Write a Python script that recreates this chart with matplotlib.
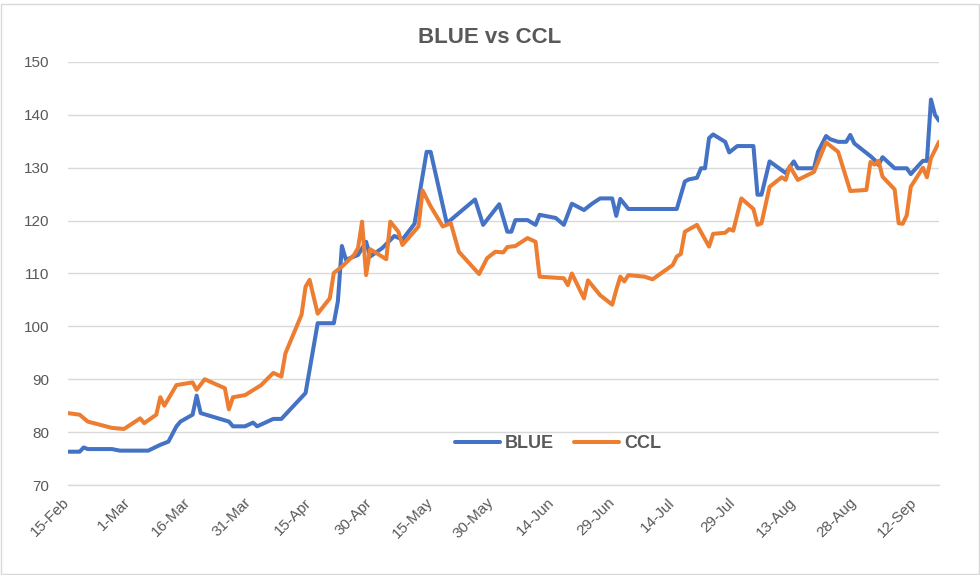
import matplotlib
matplotlib.use("Agg")
import matplotlib.pyplot as plt
import pandas as pd

YEAR = 2020

# ---- data ----
blue_dates = ["02-15", "02-18", "02-19", "02-20", "02-26", "02-28", "03-06", "03-09",
              "03-11", "03-13", "03-14", "03-17", "03-18", "03-19", "03-26", "03-27",
              "03-30", "04-01", "04-02", "04-06", "04-08", "04-14", "04-17", "04-21",
              "04-22", "04-23", "04-24", "04-27", "04-29", "04-30", "05-03", "05-06",
              "05-08", "05-11", "05-14", "05-15", "05-19", "05-26", "05-28", "06-01",
              "06-03", "06-04", "06-05", "06-08", "06-10", "06-11", "06-15", "06-17",
              "06-19", "06-22", "06-24", "06-26", "06-29", "06-30", "07-01", "07-03",
              "07-15", "07-17", "07-18", "07-20", "07-21", "07-22", "07-23", "07-24",
              "07-27", "07-28", "07-30", "08-03", "08-04", "08-05", "08-07", "08-11",
              "08-13", "08-14", "08-18", "08-19", "08-21", "08-22", "08-24", "08-26",
              "08-27", "08-28", "09-01", "09-02", "09-03", "09-04", "09-07", "09-10",
              "09-11", "09-13", "09-14", "09-15", "09-16", "09-17", "09-18"]
blue_values = [76.3, 76.3, 77.1, 76.8, 76.8, 76.5, 76.5, 77.6,
               78.2, 81.1, 82.0, 83.3, 86.9, 83.6, 82.0, 81.1,
               81.1, 81.8, 81.1, 82.5, 82.5, 87.4, 100.6, 100.6,
               104.7, 115.2, 112.6, 113.5, 116.0, 113.2, 114.8, 117.1,
               116.4, 119.4, 133.0, 133.0, 119.5, 124.0, 119.2, 123.1,
               117.9, 117.9, 120.1, 120.1, 119.2, 121.1, 120.5, 119.2,
               123.2, 122.0, 123.2, 124.2, 124.2, 120.9, 124.1, 122.2,
               122.2, 127.4, 127.8, 128.1, 129.9, 129.9, 135.6, 136.3,
               134.9, 132.9, 134.1, 134.1, 124.9, 124.9, 131.2, 129.0,
               131.2, 129.9, 129.9, 133.0, 136.0, 135.4, 134.9, 134.9,
               136.2, 134.6, 132.2, 131.5, 130.5, 132.0, 129.9, 129.9,
               128.8, 130.5, 131.3, 131.3, 142.9, 140.0, 138.9]

ccl_dates = ["02-15", "02-18", "02-20", "02-26", "02-29", "03-04", "03-05", "03-08",
             "03-09", "03-10", "03-13", "03-17", "03-18", "03-20", "03-25", "03-26",
             "03-27", "03-30", "04-03", "04-06", "04-08", "04-09", "04-13", "04-14",
             "04-15", "04-17", "04-20", "04-21", "04-23", "04-26", "04-27", "04-28",
             "04-29", "04-30", "05-04", "05-05", "05-07", "05-08", "05-12", "05-13",
             "05-15", "05-18", "05-20", "05-22", "05-27", "05-29", "05-31", "06-02",
             "06-03", "06-05", "06-08", "06-10", "06-11", "06-17", "06-18", "06-19",
             "06-22", "06-23", "06-26", "06-29", "06-30", "07-01", "07-02", "07-03",
             "07-07", "07-09", "07-14", "07-15", "07-16", "07-17", "07-20", "07-23",
             "07-24", "07-27", "07-28", "07-29", "07-31", "08-03", "08-04", "08-05",
             "08-07", "08-10", "08-11", "08-12", "08-14", "08-18", "08-21", "08-24",
             "08-27", "08-31", "09-01", "09-02", "09-03", "09-04", "09-07", "09-08",
             "09-09", "09-10", "09-11", "09-14", "09-15", "09-16", "09-18"]
ccl_values = [83.6, 83.3, 82.0, 80.8, 80.6, 82.6, 81.7, 83.3,
              86.6, 85.0, 88.9, 89.4, 88.0, 90.0, 88.3, 84.3,
              86.6, 87.0, 88.9, 91.2, 90.5, 94.9, 102.2, 107.5,
              108.8, 102.4, 105.3, 110.1, 111.3, 113.5, 114.8, 119.8,
              109.7, 114.6, 112.7, 119.8, 117.9, 115.4, 118.9, 125.7,
              122.7, 118.9, 119.5, 114.1, 109.9, 112.9, 114.1, 114.0,
              115.0, 115.2, 116.7, 116.0, 109.4, 109.1, 107.8, 110.0,
              105.3, 108.7, 105.9, 104.1, 106.9, 109.4, 108.5, 109.7,
              109.4, 108.9, 111.6, 113.2, 113.7, 117.9, 119.2, 115.1,
              117.5, 117.7, 118.4, 118.1, 124.2, 122.2, 119.2, 119.5,
              126.4, 128.2, 127.7, 130.3, 127.7, 129.2, 134.8, 133.0,
              125.6, 125.8, 131.1, 130.6, 131.3, 128.3, 125.9, 119.5,
              119.4, 121.0, 126.4, 130.0, 128.2, 131.8, 134.9]

series_names = ["BLUE", "CCL"]
title = "BLUE vs CCL"
y_ticks = [70, 80, 90, 100, 110, 120, 130, 140, 150]
x_tick_start = "02-15"
x_tick_end = "09-12"
x_tick_step_days = 15

# ---- styling ----
BLUE = "#4472C4"
ORANGE = "#ED7D31"
TEXT = "#595959"
GRID = "#D9D9D9"
FONT = ["Liberation Sans", "DejaVu Sans"]

plt.rcParams["font.family"] = FONT


def to_dates(md):
    return pd.to_datetime([f"{YEAR}-{s}" for s in md])


bd = to_dates(blue_dates)
cd = to_dates(ccl_dates)

fig = plt.figure(figsize=(9.8, 5.75), dpi=100)
ax = fig.add_axes([0.0689, 0.1565, 0.8893, 0.7357])

lw = 2.9
ax.plot(bd, blue_values, color=BLUE, lw=lw, label=series_names[0],
        solid_joinstyle="round", solid_capstyle="round", zorder=3)
ax.plot(cd, ccl_values, color=ORANGE, lw=lw, label=series_names[1],
        solid_joinstyle="round", solid_capstyle="round", zorder=3)

ax.set_ylim(y_ticks[0], y_ticks[-1])
ax.set_yticks(y_ticks)
ax.set_xlim(min(bd[0], cd[0]), max(bd[-1], cd[-1]))

ticks = pd.date_range(f"{YEAR}-{x_tick_start}", f"{YEAR}-{x_tick_end}",
                      freq=f"{x_tick_step_days}D")
ax.set_xticks(ticks)
ax.set_xticklabels([f"{d.day}-{d.strftime('%b')}" for d in ticks],
                   rotation=45, ha="right", va="center", rotation_mode="anchor")

ax.grid(axis="y", color=GRID, lw=1.0, zorder=0)
for s in ["top", "right", "left"]:
    ax.spines[s].set_visible(False)
ax.spines["bottom"].set_color(GRID)
ax.spines["bottom"].set_linewidth(1.0)

ax.tick_params(axis="y", length=0, pad=13, labelsize=11, labelcolor=TEXT)
ax.tick_params(axis="x", length=0, pad=11, labelsize=11, labelcolor=TEXT)

fig.text(0.5, 0.934, title, ha="center", va="center", fontsize=16,
         fontweight="bold", color=TEXT)

leg = ax.legend(loc="center", bbox_to_anchor=(0.563, 0.097), ncol=2,
                frameon=False, handlelength=2.5, handletextpad=0.3,
                columnspacing=1.1, prop={"weight": "bold", "size": 13})
for t in leg.get_texts():
    t.set_color(TEXT)

# light chart frame
fig.patches.append(plt.Rectangle((0.001, 0.001), 0.998, 0.992, transform=fig.transFigure,
                                 fill=False, edgecolor=GRID, lw=1.0))

fig.savefig("out.png", dpi=100)
